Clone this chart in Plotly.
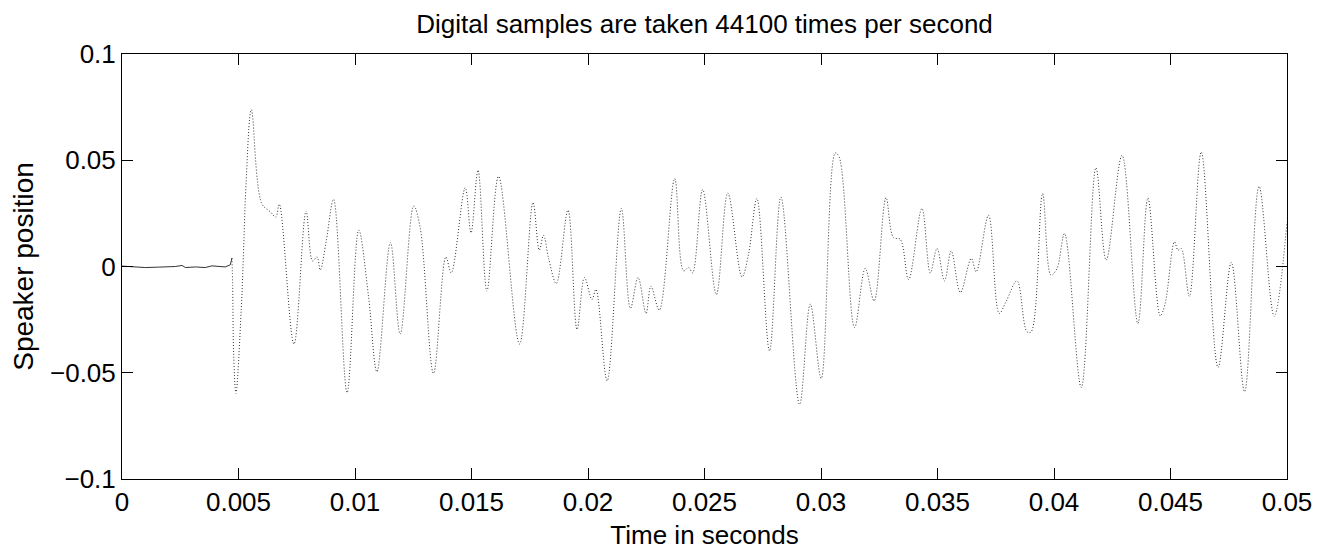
import plotly.graph_objects as go

# Quiet lead-in before the sound starts
quiet_t = [0.0, 0.00057, 0.0010, 0.00157, 0.00186, 0.00229, 0.00258, 0.00272,
           0.00315, 0.00357, 0.00386, 0.00443, 0.00465, 0.00472]
quiet_v = [0.0002, 0.0, -0.0005, -0.0003, -0.0002, 0.0, 0.0005, -0.0005,
           -0.0002, -0.0005, 0.0003, -0.0002, 0.0008, 0.004]

# Sound waveform key samples (extrema and shoulders)
wave_t = [0.00472, 0.00475, 0.00479, 0.00489, 0.00512, 0.00522, 0.00532, 0.00555,
          0.00600, 0.00637, 0.00660, 0.00675, 0.00738, 0.00790, 0.00818, 0.00837,
          0.00851, 0.00876, 0.00908, 0.00966, 0.01016, 0.01058, 0.01094, 0.01152,
          0.01194, 0.01252, 0.01280, 0.01337, 0.01390, 0.01413, 0.01473, 0.01498,
          0.01528, 0.01566, 0.01616, 0.01706, 0.01764, 0.01791, 0.01809, 0.01831,
          0.01864, 0.01914, 0.01953, 0.01985, 0.02017, 0.02034, 0.02082, 0.02143,
          0.02182, 0.02215, 0.02249, 0.02270, 0.02306, 0.02372, 0.02410, 0.02432,
          0.02449, 0.02492, 0.02551, 0.02600, 0.02661, 0.02689, 0.02725, 0.02779,
          0.02828, 0.02908, 0.02954, 0.03001, 0.03061, 0.03078, 0.03144, 0.03190,
          0.03228, 0.03279, 0.03311, 0.03340, 0.03376, 0.03433, 0.03469, 0.03498,
          0.03530, 0.03559, 0.03598, 0.03645, 0.03666, 0.03719, 0.03765, 0.03794,
          0.03841, 0.03884, 0.03902, 0.03951, 0.03987, 0.04013, 0.04045, 0.04117,
          0.04180, 0.04224, 0.04292, 0.04360, 0.04403, 0.04456, 0.04477, 0.04517,
          0.04532, 0.04546, 0.04581, 0.04632, 0.04704, 0.04761, 0.04818, 0.04880,
          0.04945, 0.05000]
wave_v = [0.004, -0.0093, -0.0406, -0.0597, -0.0196, 0.0083, 0.0382, 0.0738,
          0.0296, 0.0257, 0.0233, 0.0293, -0.0365, 0.0261, 0.0026, 0.0045,
          -0.0017, 0.0116, 0.0316, -0.0594, 0.0171, -0.0140, -0.0495, 0.0113,
          -0.0318, 0.0285, 0.0181, -0.0503, 0.0045, -0.0030, 0.0371, 0.0158,
          0.0453, -0.0115, 0.0424, -0.0365, 0.0301, 0.0077, 0.0147, 0.0038,
          -0.0080, 0.0265, -0.0296, -0.0052, -0.0155, -0.0108, -0.0538, 0.0273,
          -0.0197, -0.0052, -0.0221, -0.0093, -0.0205, 0.0414, -0.0020, -0.0005,
          -0.0030, 0.0362, -0.0132, 0.0346, -0.0049, 0.0058, 0.0320, -0.0397,
          0.0327, -0.0649, -0.0177, -0.0527, 0.0534, 0.0515, -0.0287, -0.0009,
          -0.0162, 0.0324, 0.0136, 0.0128, -0.0061, 0.0273, -0.0030, 0.0085,
          -0.0068, 0.0073, -0.0122, 0.0038, -0.0025, 0.0241, -0.0221, -0.0166,
          -0.0068, -0.0307, -0.0307, 0.0343, -0.0041, -0.0009, 0.0155, -0.0569,
          0.0465, 0.0030, 0.0523, -0.0268, 0.0322, -0.0232, -0.0174, 0.0116,
          0.0077, 0.0085, -0.0140, 0.0539, -0.0475, 0.0019, -0.0589, 0.0377,
          -0.0234, 0.0210]

x_ticks = [0, 0.005, 0.01, 0.015, 0.02, 0.025, 0.03, 0.035, 0.04, 0.045, 0.05]
x_tick_text = ["0", "0.005", "0.01", "0.015", "0.02", "0.025", "0.03", "0.035",
               "0.04", "0.045", "0.05"]
y_ticks = [-0.1, -0.05, 0, 0.05, 0.1]
y_tick_text = ["\u22120.1", "\u22120.05", "0", "0.05", "0.1"]

FONT = "Liberation Sans, Arial, Helvetica, sans-serif"
W, H = 1320, 542  # page adds an 8px body margin

fig = go.Figure()
fig.add_trace(go.Scatter(x=quiet_t, y=quiet_v, mode="lines",
                         line=dict(color="#333333", width=1),
                         showlegend=False, hoverinfo="skip"))
fig.add_trace(go.Scatter(x=wave_t, y=wave_v, mode="lines",
                         line=dict(color="#333333", width=1, dash="1px,2px",
                                   shape="spline", smoothing=1.0),
                         showlegend=False, hoverinfo="skip"))

axis_common = dict(showline=True, linecolor="black", linewidth=1, mirror="ticks",
                   ticks="inside", tickcolor="black", tickwidth=1,
                   showgrid=False, zeroline=False, automargin=False,
                   tickfont=dict(family=FONT, size=26, color="black"))

fig.update_layout(
    width=W, height=H,
    margin=dict(l=114, r=41, t=46, b=71),
    paper_bgcolor="white", plot_bgcolor="white",
    font=dict(family=FONT, color="black", size=26),
    title=dict(text="Digital samples are taken 44100 times per second",
               x=0.5, xref="paper", xanchor="center",
               y=1 - 16 / H, yref="container", yanchor="middle",
               font=dict(family=FONT, size=26, color="black")),
    xaxis=dict(range=[0, 0.05], tickvals=x_ticks, ticktext=x_tick_text,
               ticklen=11,
               title=dict(text="Time in seconds", standoff=13,
                          font=dict(family=FONT, size=26, color="black")),
               **axis_common),
    yaxis=dict(range=[-0.1, 0.1], tickvals=y_ticks, ticktext=y_tick_text,
               ticklen=11,
               title=dict(text="Speaker position", standoff=12,
                          font=dict(family=FONT, size=28, color="black")),
               **axis_common),
)

fig.write_html("out.html")
